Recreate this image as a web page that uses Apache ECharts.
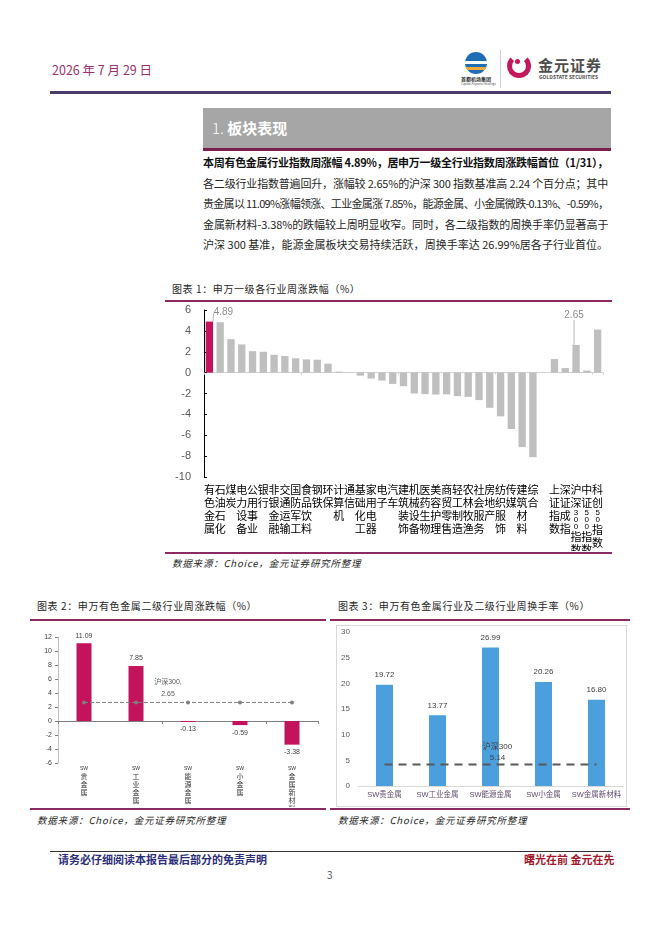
<!DOCTYPE html>
<html>
<head>
<meta charset="utf-8">
<title>有色金属周报 板块表现</title>
<script src="https://cdn.jsdelivr.net/npm/echarts@6/dist/echarts.min.js"></script>
<style>
  body { margin: 0; width: 662px; height: 936px; position: relative; background: #fff; overflow: hidden;
         font-family: "Noto Sans CJK SC", "Liberation Sans", sans-serif; color: #222; }
  .abs { position: absolute; }
  .line { position: absolute; height: 1.5px; background: #8c2a63; }
  .para { position: absolute; left: 203px; width: 405px; font-size: 11px; line-height: 14px; white-space: nowrap;
          overflow: hidden; text-align: justify; text-align-last: justify; color: #262626; }
  .ctitle { position: absolute; font-size: 10px; line-height: 12px; letter-spacing: 0.6px; color: #262626; }
  .src { position: absolute; font-size: 9.5px; line-height: 12px; font-style: italic; letter-spacing: 0.8px; color: #262626; }
</style>
</head>
<body>
  <!-- 页眉 -->
  <div class="abs" style="left:52px;top:62px;font-size:12.5px;line-height:16px;color:#9c2f6d;">2026 年 7 月 29 日</div>
  <div class="abs" style="left:465px;top:52px;width:22px;height:22px;border-radius:50%;background:#1f6db5;overflow:hidden;">
    <div class="abs" style="left:0;top:9px;width:22px;height:3px;background:#fff;"></div>
    <div class="abs" style="left:0;top:15px;width:22px;height:3px;background:#f2a93b;"></div>
  </div>
  <div class="abs" style="left:461px;top:76px;font-size:5px;line-height:6px;font-weight:bold;color:#333;">首都机场集团</div>
  <div class="abs" style="left:461px;top:82px;font-size:3px;line-height:4px;color:#555;">Capital Airports Holdings</div>
  <div class="abs" style="left:500px;top:50px;width:1px;height:38px;background:#d0d0d0;"></div>
  <div class="abs" style="left:507px;top:54px;width:14px;height:14px;border-radius:50%;border:5px solid #c4185c;border-top-color:transparent;"></div>
  <div class="abs" style="left:515px;top:59px;width:5px;height:5px;border-radius:50%;background:#c4185c;"></div>
  <div class="abs" style="left:538px;top:56px;font-size:15px;line-height:18px;font-weight:bold;letter-spacing:1px;color:#4d4d4d;">金元证券</div>
  <div class="abs" style="left:539px;top:74px;font-size:5px;line-height:6px;font-weight:bold;color:#4d4d4d;">GOLDSTATE SECURITIES</div>
  <div class="abs" style="left:50px;top:91px;width:561px;height:2.5px;background:#4a3b6b;"></div>

  <!-- 章节标题 -->
  <div class="abs" style="left:203px;top:108px;width:408px;height:40px;background:#a6a6a6;"></div>
  <div class="abs" style="left:212px;top:108px;line-height:40px;font-size:15px;color:#fff;"><span style="font-weight:300;">1.</span> <b>板块表现</b></div>
  <div class="abs" style="left:203px;top:148px;width:408px;height:3px;background:#7d1f4c;"></div>

  <!-- 正文 -->
  <div class="para" style="top:155px;font-weight:bold;color:#111;">本周有色金属行业指数周涨幅 4.89%，居申万一级全行业指数周涨跌幅首位（1/31），</div>
  <div class="para" style="top:176px;">各二级行业指数普遍回升，涨幅较 2.65%的沪深 300 指数基准高 2.24 个百分点；其中</div>
  <div class="para" style="top:196px;">贵金属以 11.09%涨幅领涨、工业金属涨 7.85%，能源金属、小金属微跌-0.13%、-0.59%，</div>
  <div class="para" style="top:217px;">金属新材料-3.38%的跌幅较上周明显收窄。同时，各二级指数的周换手率仍显著高于</div>
  <div class="para" style="top:237px;">沪深 300 基准，能源金属板块交易持续活跃，周换手率达 26.99%居各子行业首位。</div>

  <!-- 图表 1 -->
  <div class="ctitle" style="left:172px;top:283px;">图表 1：申万一级各行业周涨跌幅（%）</div>
  <div class="line" style="left:165px;top:300px;width:447px;"></div>
  <div id="chart1" class="abs" style="left:165px;top:301px;width:450px;height:250px;"></div>
  <div class="line" style="left:165px;top:552px;width:447px;"></div>
  <div class="src" style="left:172px;top:557px;">数据来源：Choice，金元证券研究所整理</div>

  <!-- 图表 2 -->
  <div class="ctitle" style="left:37px;top:600px;">图表 2：申万有色金属二级行业周涨跌幅（%）</div>
  <div class="line" style="left:30px;top:619px;width:296px;"></div>
  <div id="chart2" class="abs" style="left:30px;top:622px;width:298px;height:185px;"></div>
  <div class="line" style="left:30px;top:808px;width:296px;"></div>
  <div class="src" style="left:37px;top:814px;">数据来源：Choice，金元证券研究所整理</div>

  <!-- 图表 3 -->
  <div class="ctitle" style="left:338px;top:600px;">图表 3：申万有色金属行业及二级行业周换手率（%）</div>
  <div class="line" style="left:330px;top:619px;width:300px;"></div>
  <div id="chart3" class="abs" style="left:336px;top:625px;width:289px;height:180px;border:1px solid #d9d9d9;"></div>
  <div class="line" style="left:330px;top:808px;width:300px;"></div>
  <div class="src" style="left:338px;top:814px;">数据来源：Choice，金元证券研究所整理</div>

  <!-- 页脚 -->
  <div class="abs" style="left:50px;top:851px;width:561px;height:1px;background:#333;"></div>
  <div class="abs" style="left:58px;top:852px;font-size:11px;line-height:14px;font-weight:bold;color:#2d2f7a;">请务必仔细阅读本报告最后部分的免责声明</div>
  <div class="abs" style="left:524px;top:852px;font-size:11px;line-height:14px;font-weight:bold;color:#a3182e;">曙光在前 金元在先</div>
  <div class="abs" style="left:327px;top:869px;font-size:10px;line-height:12px;color:#555;">3</div>

<script type="text/javascript">
  // 申万一级行业（按周涨跌幅排序）及主要指数
  var industryNames = ['有色金属', '石油石化', '煤炭', '电力设备', '公用事业', '银行', '非银金融', '交通运输',
    '国防军工', '食品饮料', '钢铁', '环保', '计算机', '通信', '基础化工', '家用电器', '电子', '汽车',
    '建筑装饰', '机械设备', '医药生物', '美容护理', '商贸零售', '轻工制造', '农林牧渔', '社会服务',
    '房地产', '纺织服饰', '传媒', '建筑材料', '综合'];
  var industryChange = [4.89, 4.83, 3.21, 2.70, 2.06, 2.00, 1.71, 1.59, 1.37, 1.27, 1.24, 0.86, 0.10, 0.03,
    -0.29, -0.57, -0.76, -1.08, -1.30, -2.00, -2.06, -2.10, -2.08, -2.25, -2.32, -2.63, -3.37, -4.19,
    -5.40, -7.14, -8.10];
  var indexNames = ['上证指数', '深证成指', '沪深300指数', '中证500指数', '科创50指数'];
  var indexChange = [1.30, 0.44, 2.65, 0.19, 4.13];
  var chart1Ticks = { min: -10, max: 6, interval: 2 };

  // 有色金属二级行业
  var subNames = ['SW贵金属', 'SW工业金属', 'SW能源金属', 'SW小金属', 'SW金属新材料'];
  var subChange = [11.09, 7.85, -0.13, -0.59, -3.38];
  var hs300Change = [2.65, 2.65, 2.65, 2.65, 2.65];
  var chart2Ticks = { min: -6, max: 12, interval: 2 };

  var subTurnover = [19.72, 13.77, 26.99, 20.26, 16.80];
  var hs300TurnoverLine = [4.2, 4.2, 4.2, 4.2, 4.2];
  var hs300TurnoverLabel = '5.14';
  var chart3Ticks = { min: 0, max: 30, interval: 5 };

  // 正文过长的行收紧字距
  document.querySelectorAll('.para').forEach(function (el) {
    var ls = 0;
    while (el.scrollWidth > el.clientWidth && ls > -2) {
      ls -= 0.1;
      el.style.letterSpacing = ls.toFixed(1) + 'px';
    }
  });

  var FONT = '"Liberation Sans", "Noto Sans CJK SC", sans-serif';
  var MAGENTA = '#c2135c';

  // 竖排标签：汉字逐字换行，数字逐位小字换行
  function verticalLabel(name) {
    var parts = name.match(/[0-9]+|[^0-9]/g) || [];
    return parts.map(function (p) {
      if (/^[0-9]+$/.test(p)) {
        return p.split('').map(function (d) { return '{d|' + d + '}'; }).join('\n');
      }
      return '{c|' + p + '}';
    }).join('\n');
  }

  // ---------- 图表 1 ----------
  var cats1 = industryNames.concat([''], indexNames);
  var values1 = industryChange.concat(['-'], indexChange);
  var hs300Index = cats1.indexOf('沪深300指数');
  var labelStyle1 = { show: true, position: 'top', color: '#8c8c8c', fontSize: 10, distance: 3 };
  var data1 = values1.map(function (v, i) {
    var item = { value: v };
    if (i === 0) {
      item.itemStyle = { color: MAGENTA };
      item.label = labelStyle1;
      item.labelLine = { show: true, lineStyle: { color: '#a6a6a6', width: 0.8 } };
    }
    if (i === hs300Index) {
      item.label = labelStyle1;
      item.labelLine = { show: true, lineStyle: { color: '#a6a6a6', width: 0.8 } };
    }
    return item;
  });

  var chart1 = echarts.init(document.getElementById('chart1'));
  chart1.setOption({
    animation: false,
    textStyle: { fontFamily: FONT },
    grid: { left: 39, right: 12, top: 9, height: 167, outerBoundsMode: 'none' },
    xAxis: [{
      type: 'category', data: cats1,
      axisLine: { onZero: true, lineStyle: { color: '#d0d0d0' } },
      axisTick: { show: true, length: 2, lineStyle: { color: '#d0d0d0' } },
      axisLabel: { show: false }
    }, {
      type: 'category', data: cats1, position: 'bottom',
      axisLine: { show: false, onZero: false },
      axisTick: { show: false },
      axisLabel: {
        interval: 0, margin: 6,
        formatter: verticalLabel,
        rich: {
          c: { fontSize: 11, lineHeight: 13, color: '#000', fontFamily: '"Noto Sans CJK SC"' },
          d: { fontSize: 8, lineHeight: 7, color: '#000' }
        }
      }
    }],
    yAxis: {
      type: 'value', min: chart1Ticks.min, max: chart1Ticks.max, interval: chart1Ticks.interval,
      axisLine: { show: true, lineStyle: { color: '#000' } },
      axisTick: { show: true, inside: true, length: 3, lineStyle: { color: '#000' } },
      splitLine: { show: false },
      axisLabel: { color: '#595959', fontSize: 11, margin: 13 }
    },
    series: [{
      type: 'bar', xAxisIndex: 0, data: data1, barWidth: '68%',
      itemStyle: { color: '#bfbfbf' },
      labelLayout: function (p) {
        if (p.dataIndex === 0) { return { dx: 14, dy: -1 }; }
        if (p.dataIndex === hs300Index) { return { dx: -2, dy: -22 }; }
      }
    }]
  });

  // ---------- 图表 2 ----------
  function subVertical(name) {
    var rest = name.replace('SW', '');
    return ['{s|SW}'].concat(rest.split('').map(function (c) { return '{c|' + c + '}'; })).join('\n');
  }
  var data2 = subChange.map(function (v) {
    return { value: v, label: { position: v >= 0 ? 'top' : 'bottom' } };
  });
  var chart2 = echarts.init(document.getElementById('chart2'));
  chart2.setOption({
    animation: false,
    textStyle: { fontFamily: FONT },
    grid: { left: 28, right: 10, top: 15, height: 126, outerBoundsMode: 'none' },
    xAxis: [{
      type: 'category', data: subNames,
      axisLine: { onZero: true, lineStyle: { color: '#7f7f7f' } },
      axisTick: { show: true, length: 3, lineStyle: { color: '#7f7f7f' } },
      axisLabel: { show: false }
    }, {
      type: 'category', data: subNames, position: 'bottom',
      axisLine: { show: false, onZero: false },
      axisTick: { show: false },
      axisLabel: {
        interval: 0, margin: 3, formatter: subVertical,
        rich: {
          s: { fontSize: 5, lineHeight: 6, color: '#333' },
          c: { fontSize: 7, lineHeight: 8, color: '#333', fontFamily: '"Noto Sans CJK SC"' }
        }
      }
    }],
    yAxis: {
      type: 'value', min: chart2Ticks.min, max: chart2Ticks.max, interval: chart2Ticks.interval,
      axisLine: { show: true, lineStyle: { color: '#bfbfbf' } },
      axisTick: { show: true, length: 3, lineStyle: { color: '#7f7f7f' } },
      splitLine: { show: false },
      axisLabel: { color: '#404040', fontSize: 7, margin: 6 }
    },
    series: [{
      type: 'bar', xAxisIndex: 0, data: data2, barWidth: 15,
      itemStyle: { color: MAGENTA },
      label: { show: true, fontSize: 7, color: '#404040', distance: 4, formatter: function (p) { return p.value.toFixed(2); } }
    }, {
      type: 'line', xAxisIndex: 0, data: hs300Change,
      symbol: 'circle', symbolSize: 4,
      itemStyle: { color: '#7f7f7f' },
      lineStyle: { color: '#7f7f7f', width: 1, type: [4, 2] },
      label: {
        show: true, position: 'top', fontSize: 7, lineHeight: 12, color: '#595959', offset: [-20, 5],
        formatter: function (p) { return p.dataIndex === 2 ? '沪深300,\n' + p.value.toFixed(2) : ''; }
      }
    }]
  });

  // ---------- 图表 3 ----------
  var chart3 = echarts.init(document.getElementById('chart3'));
  chart3.setOption({
    animation: false,
    textStyle: { fontFamily: FONT },
    grid: { left: 21, right: 3, top: 6, height: 154, outerBoundsMode: 'none' },
    xAxis: {
      type: 'category', data: subNames,
      axisLine: { lineStyle: { color: '#d9d9d9' } },
      axisTick: { show: false },
      axisLabel: { interval: 0, fontSize: 7.5, color: '#5e4b6e', margin: 5 }
    },
    yAxis: {
      type: 'value', min: chart3Ticks.min, max: chart3Ticks.max, interval: chart3Ticks.interval,
      axisLine: { show: false }, axisTick: { show: false },
      splitLine: { show: false },
      axisLabel: { color: '#595959', fontSize: 8, margin: 8 }
    },
    series: [{
      type: 'bar', data: subTurnover, barWidth: 17,
      itemStyle: { color: '#4a9fdc' },
      label: { show: true, position: 'top', fontSize: 8, color: '#404040', distance: 6,
        formatter: function (p) { return p.value.toFixed(2); } }
    }, {
      type: 'line', data: hs300TurnoverLine, z: 5,
      symbol: 'circle', symbolSize: 1, itemStyle: { color: 'rgba(0,0,0,0)' },
      lineStyle: { color: '#595959', width: 2, type: [8, 6] },
      label: {
        show: true, position: 'top', fontSize: 8, lineHeight: 11, color: '#404040', offset: [7, 4],
        formatter: function (p) { return p.dataIndex === 2 ? '沪深300\n' + hs300TurnoverLabel : ''; }
      }
    }]
  });
</script>
</body>
</html>
